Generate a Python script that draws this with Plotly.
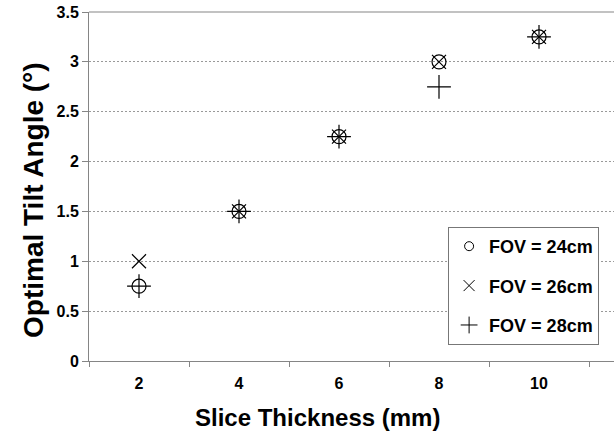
import plotly.graph_objects as go

categories = ["2", "4", "6", "8", "10"]
fov24 = [0.75, 1.5, 2.25, 3.0, 3.25]
fov26 = [1.0, 1.5, 2.25, 3.0, 3.25]
fov28 = [0.75, 1.5, 2.25, 2.75, 3.25]
series_names = ["FOV = 24cm", "FOV = 26cm", "FOV = 28cm"]

FONT = "Liberation Sans, Arial, sans-serif"
AXC = "#858585"

fig = go.Figure()
specs = [(fov24, "circle-open", 14, 9), (fov26, "x-thin-open", 14, 11), (fov28, "cross-thin-open", 17, 12)]
for i, (vals, sym, sz, lsz) in enumerate(specs):
    fig.add_trace(go.Scatter(
        x=categories, y=vals, mode="markers", name=series_names[i],
        showlegend=False,
        marker=dict(symbol=sym, size=sz, color="black",
                    line=dict(color="black", width=1.2)),
    ))
    # legend entry with smaller symbol
    fig.add_trace(go.Scatter(
        x=[None], y=[None], mode="markers", name=series_names[i],
        legendgroup=f"g{i}",
        marker=dict(symbol=sym, size=lsz, color="black",
                    line=dict(color="black", width=1)),
    ))

fig.update_layout(
    width=615, height=437,
    margin=dict(l=89, r=1, t=12, b=76),
    paper_bgcolor="white", plot_bgcolor="white",
    font=dict(family=FONT, color="black"),
    showlegend=True,
    legend=dict(
        x=0.684, y=0.384, xanchor="left", yanchor="top",
        bgcolor="white", bordercolor="#777777", borderwidth=1,
        font=dict(family=FONT, size=18, color="black", weight="bold"),
        traceorder="grouped", tracegroupgap=13,
        itemsizing="trace",
    ),
    xaxis=dict(
        type="category",
        range=[-0.5, 4.75],
        tickson="boundaries",
        ticks="outside", ticklen=5, tickcolor=AXC,
        showline=True, linecolor=AXC, linewidth=1,
        showgrid=False, zeroline=False,
        automargin=False,
        ticklabelstandoff=8,
        tickfont=dict(family=FONT, size=16, color="black", weight="bold"),
    ),
    yaxis=dict(
        range=[0, 3.5], dtick=0.5, tick0=0,
        ticks="outside", ticklen=6, tickcolor=AXC,
        showline=True, linecolor=AXC, linewidth=1,
        showgrid=True, gridcolor="#999999", griddash="2px,2px", gridwidth=1,
        zeroline=False,
        automargin=False,
        ticklabeloverflow="allow",
        tickfont=dict(family=FONT, size=16, color="black", weight="bold"),
    ),
    annotations=[
        dict(
            text="Optimal Tilt Angle (°)", textangle=-90,
            xref="paper", yref="paper", x=0, y=0.5,
            xanchor="right", yanchor="middle", xshift=-38, yshift=-14,
            showarrow=False,
            font=dict(family=FONT, size=28, color="black", weight="bold"),
        ),
        dict(
            text="Slice Thickness (mm)",
            xref="paper", yref="paper", x=0.436, y=0,
            xanchor="center", yanchor="middle", yshift=-56,
            showarrow=False,
            font=dict(family=FONT, size=24, color="black", weight="bold"),
        ),
    ],
)

# solid top border at 3.5
fig.add_shape(type="line", xref="paper", yref="paper", x0=0, x1=1, y0=1, y1=1,
              line=dict(color=AXC, width=1))

fig.write_html("out.html",
               config={"displayModeBar": False},
               post_script="document.body.style.margin='0';document.body.style.padding='0';")
